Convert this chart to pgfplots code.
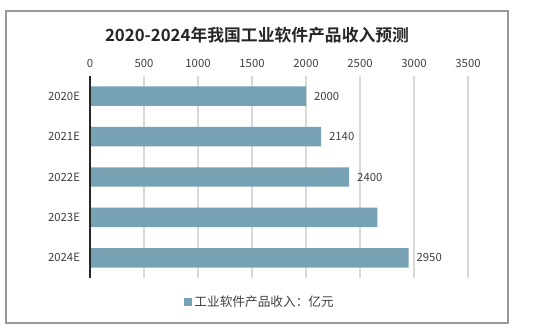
\documentclass[border=0pt]{standalone}
\usepackage{pgfplots}
\pgfplotsset{compat=1.18}
\usepackage{fontspec}
\setmainfont{Noto Sans CJK SC}
\newfontfamily\titlefont{Noto Sans CJK SC Bold}
\definecolor{barc}{RGB}{118,162,180}
\definecolor{gridc}{RGB}{217,217,217}
\definecolor{txt}{RGB}{64,64,64}
\begin{document}
\begin{tikzpicture}[x=0.75pt,y=0.75pt]
\path[fill=white] (0,0) rectangle (546,333);
\draw[color=gray!80, line width=0.8pt] (6,10) rectangle (508,322);
\node[font=\titlefont\fontsize{12.6}{15}\selectfont, text=black!85] at (257,298) {2020-2024年我国工业软件产品收入预测};
\begin{axis}[
  at={(67.5pt,41.25pt)}, anchor=south west,
  scale only axis, width=283.5pt, height=151.5pt,
  xbar, bar width=14.6pt,
  xmin=0, xmax=3500,
  ymin=-0.5, ymax=4.5,
  ytick={0,1,2,3,4},
  yticklabels={2024E,2023E,2022E,2021E,2020E},
  xtick={0,500,...,3500},
  xticklabel pos=upper,
  /pgf/number format/assume math mode=true,
  /pgf/number format/1000 sep={},
  ticklabel style={font=\fontsize{8.5}{10}\selectfont, text=txt},
  xticklabel style={yshift=3pt},
  yticklabel style={xshift=-4pt},
  major tick length=0pt,
  xmajorgrids, grid style={gridc, line width=0.8pt},
  axis line style={draw=none},
  legend style={at={(0.45,-0.12)}, anchor=center, draw=none, fill=none, font=\fontsize{9.5}{11}\selectfont, text=txt},
  nodes near coords style={font=\fontsize{8.5}{10}\selectfont, text=txt, xshift=2.5pt},
  clip=false,
]
\addplot[fill=barc, draw=none, nodes near coords, nodes near coords align={horizontal},
  visualization depends on={x \as \xv},
  nodes near coords={\ifdim\xv pt=2660pt\else\pgfmathprintnumber[1000 sep={}]{\xv}\fi},
  legend image code/.code={\fill[barc] (0pt,-3pt) rectangle (6pt,3pt);},
] coordinates {(2950,0) (2660,1) (2400,2) (2140,3) (2000,4)};
\addlegendentry{工业软件产品收入：亿元}
\draw[black!85, line width=0.8pt] (axis cs:0,-0.5) -- (axis cs:0,4.5);
\end{axis}
\end{tikzpicture}
\end{document}
